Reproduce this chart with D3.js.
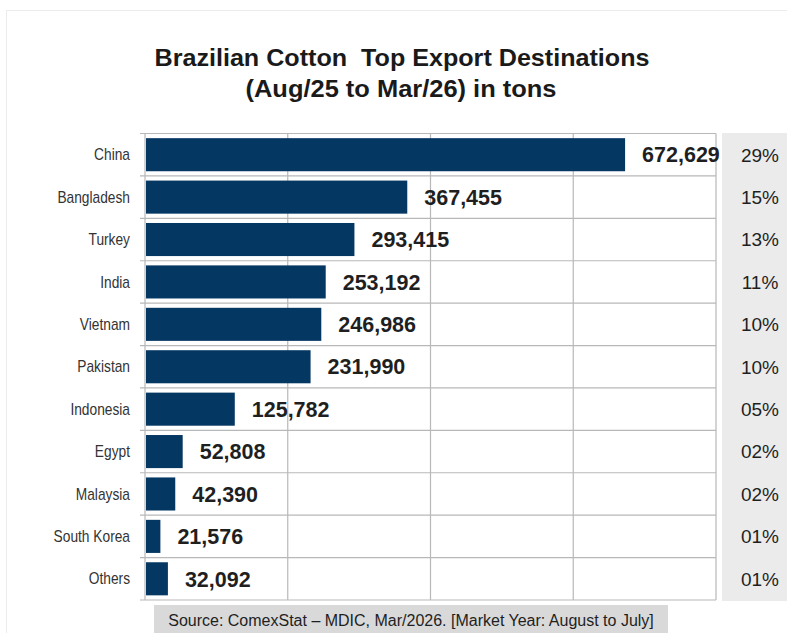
<!DOCTYPE html>
<html><head><meta charset="utf-8">
<script src="https://cdn.jsdelivr.net/npm/d3@7"></script>
<style>body{margin:0;background:#fff;}svg{display:block;font-family:"Liberation Sans",Arial,sans-serif;}</style>
</head><body>
<svg id="c" width="787" height="633"></svg>
<script>
const categories = ["China","Bangladesh","Turkey","India","Vietnam","Pakistan","Indonesia","Egypt","Malaysia","South Korea","Others"];
const values = [672629,367455,293415,253192,246986,231990,125782,52808,42390,21576,32092];
const shares = ["29%","15%","13%","11%","10%","10%","05%","02%","02%","01%","01%"];
const xTicks = [0,200000,400000,600000,800000];
const titleLines = ["Brazilian Cotton  Top Export Destinations","(Aug/25 to Mar/26) in tons"];
const sourceText = "Source: ComexStat \u2013 MDIC, Mar/2026. [Market Year: August to July]";

const svg = d3.select("#c");
const L = 145, R = 716, T = 133.5, B = 600;
const x = d3.scaleLinear().domain([0,800000]).range([L,R]);
const y = d3.scaleBand().domain(categories).range([T,B]).paddingInner(0.22).paddingOuter(0.11);
const band = d3.scaleBand().domain(categories).range([T,B]);

// outer faint frame
svg.append("rect").attr("x",6.5).attr("y",10.5).attr("width",800).attr("height",700)
  .attr("fill","none").attr("stroke","#ececec");

// title
svg.append("text").attr("x",402).attr("y",66).attr("text-anchor","middle")
  .attr("font-size",24).attr("font-weight","bold").attr("fill","#1a1a1a")
  .style("white-space","pre")
  .attr("textLength",495).attr("lengthAdjust","spacingAndGlyphs").text(titleLines[0]);
svg.append("text").attr("x",401).attr("y",97).attr("text-anchor","middle")
  .attr("font-size",24).attr("font-weight","bold").attr("fill","#1a1a1a")
  .attr("textLength",311).attr("lengthAdjust","spacingAndGlyphs").text(titleLines[1]);

// percent column background
svg.append("rect").attr("x",722).attr("y",133).attr("width",70).attr("height",468).attr("fill","#ebebeb");

// vertical gridlines
svg.append("g").selectAll("line").data(xTicks).join("line")
  .attr("x1",d=>x(d)).attr("x2",d=>x(d)).attr("y1",T).attr("y2",B)
  .attr("stroke","#b8b8b8").attr("stroke-width",1.2);

// horizontal band boundaries
const bounds = categories.map(c=>band(c)).concat([B]);
svg.append("g").selectAll("line").data(bounds).join("line")
  .attr("x1",L-5).attr("x2",R).attr("y1",d=>d).attr("y2",d=>d)
  .attr("stroke","#b8b8b8").attr("stroke-width",1.2);

// bars
svg.append("g").selectAll("rect").data(categories).join("rect")
  .attr("x",x(0)+1).attr("y",d=>y(d)).attr("height",y.bandwidth())
  .attr("width",(d,i)=>x(values[i])-x(0)-1).attr("fill","#053763");

// category labels (condensed)
svg.append("g").selectAll("text").data(categories).join("text")
  .attr("transform",d=>`translate(130,${band(d)+band.bandwidth()/2}) scale(0.86,1)`)
  .attr("dy","0.35em")
  .attr("text-anchor","end").attr("font-size",16).attr("fill","#333")
  .text(d=>d);

// value labels
svg.append("g").selectAll("text").data(categories).join("text")
  .attr("x",(d,i)=>x(values[i])+17).attr("y",d=>band(d)+band.bandwidth()/2).attr("dy","0.36em")
  .attr("font-size",21.5).attr("font-weight","bold").attr("fill","#1f1f1f")
  .text((d,i)=>d3.format(",")(values[i]));

// share labels
svg.append("g").selectAll("text").data(categories).join("text")
  .attr("x",760).attr("y",d=>band(d)+band.bandwidth()/2).attr("dy","0.36em")
  .attr("text-anchor","middle").attr("font-size",19).attr("fill","#1f1f1f")
  .text((d,i)=>shares[i]);

// source box
svg.append("rect").attr("x",154).attr("y",605).attr("width",514).attr("height",30).attr("fill","#d9d9d9");
svg.append("text").attr("x",411).attr("y",626).attr("text-anchor","middle")
  .attr("font-size",16).attr("fill","#1f1f1f").text(sourceText);
</script>
</body></html>
